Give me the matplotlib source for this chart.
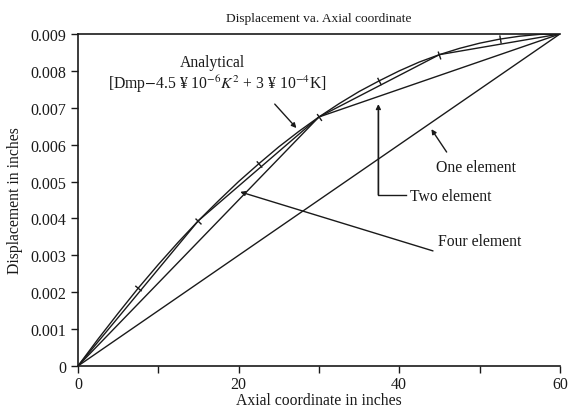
import numpy as np
import matplotlib
matplotlib.use("Agg")
import matplotlib.pyplot as plt
from matplotlib.ticker import FixedLocator, FuncFormatter

plt.rcParams['font.family'] = ['Liberation Serif', 'DejaVu Serif']
plt.rcParams['mathtext.fontset'] = 'stix'

# analytical curve
x_exact = [0, 2.5, 5, 7.5, 10, 12.5, 15, 17.5, 20, 22.5, 25, 27.5, 30,
           32.5, 35, 37.5, 40, 42.5, 45, 47.5, 50, 52.5, 55, 57.5, 60]
u_exact = [0, 0.00073, 0.00143, 0.00211, 0.00275, 0.00336, 0.00394, 0.00448,
           0.0050, 0.00548, 0.00594, 0.00636, 0.00675, 0.00711, 0.00744,
           0.00773, 0.0080, 0.00824, 0.00844, 0.00861, 0.00875, 0.00886,
           0.00894, 0.00899, 0.009]

# finite element solutions
x_four = [0, 15, 30, 45, 60]
u_four = [0, 0.00394, 0.00675, 0.00844, 0.009]
x_two = [0, 30, 60]
u_two = [0, 0.00675, 0.009]
x_one = [0, 60]
u_one = [0, 0.009]

# points marked with small ticks on the analytical curve
x_marks = [7.5, 15, 22.5, 30, 37.5, 45, 52.5]

ink = '#1a1a1a'
fs = 11.3

fig = plt.figure(figsize=(5.69, 4.14), dpi=100)
ax = fig.add_axes([0.137, 0.1135, 0.847, 0.802])

ax.plot(x_exact, u_exact, color=ink, lw=1.0)
ax.plot(x_four, u_four, color=ink, lw=1.0)
ax.plot(x_two, u_two, color=ink, lw=1.0)
ax.plot(x_one, u_one, color=ink, lw=1.0)

ax.set_xlim(0, 60)
ax.set_ylim(0, 0.009)

# short tick marks across the analytical curve
sx = ax.get_position().width * 569 / 60
sy = ax.get_position().height * 414 / 0.009
u_marks = np.interp(x_marks, x_exact, u_exact)
slopes = np.gradient(np.array(u_exact), np.array(x_exact))
for xm, um in zip(x_marks, u_marks):
    s = np.interp(xm, x_exact, slopes) * sy / sx
    ang = np.degrees(np.arctan(s))
    ax.plot([xm], [um], marker=(2, 0, ang), markersize=6, color=ink, mew=1.0)

ax.spines['right'].set_visible(False)
for sp in ['left', 'bottom', 'top']:
    ax.spines[sp].set_linewidth(1.2)
    ax.spines[sp].set_color(ink)

ax.xaxis.set_major_locator(FixedLocator([0, 20, 40, 60]))
ax.xaxis.set_minor_locator(FixedLocator([10, 30, 50]))
ax.yaxis.set_major_locator(FixedLocator(np.arange(0, 0.0095, 0.001)))
ax.yaxis.set_major_formatter(FuncFormatter(lambda v, p: '0' if abs(v) < 1e-9 else f'{v:.3f}'))
ax.tick_params(which='both', direction='out', length=5, width=1.0, color=ink,
               labelsize=11.5, labelcolor=ink, top=False, right=False)
ax.tick_params(axis='x', pad=2)

ax.set_title('Displacement va. Axial coordinate', fontsize=9.6, color=ink, pad=9)
ax.set_xlabel('Axial coordinate in inches', fontsize=fs, color=ink, labelpad=0)
ax.set_ylabel('Displacement in inches', fontsize=fs, color=ink, labelpad=5)

akw = dict(arrowstyle='-|>', color=ink, lw=1.0, mutation_scale=7, shrinkA=0, shrinkB=0)

ax.text(16.8, 0.00824, 'Analytical', ha='center', va='center', fontsize=fs, color=ink)
ax.text(17.4, 0.00766, r'[Dmp$-$4.5 ¥ 10$^{-6}$$K^2$ + 3 ¥ 10$^{-4}$K]',
        ha='center', va='center', fontsize=fs, color=ink)
ax.annotate('', xy=(27.2, 0.00645), xytext=(24.5, 0.0071), arrowprops=akw)

ax.text(44.6, 0.0054, 'One element', ha='left', va='center', fontsize=fs, color=ink)
ax.annotate('', xy=(44.0, 0.00642), xytext=(45.9, 0.0058), arrowprops=akw)

ax.text(41.3, 0.00462, 'Two element', ha='left', va='center', fontsize=fs, color=ink)
ax.plot([40.9, 37.4, 37.4], [0.00464, 0.00464, 0.0069], color=ink, lw=1.0)
ax.annotate('', xy=(37.4, 0.0071), xytext=(37.4, 0.00464), arrowprops=akw)

ax.text(44.8, 0.00338, 'Four element', ha='left', va='center', fontsize=fs, color=ink)
ax.annotate('', xy=(20.2, 0.00472), xytext=(44.2, 0.00312), arrowprops=akw)

fig.savefig('out.png', dpi=100)
